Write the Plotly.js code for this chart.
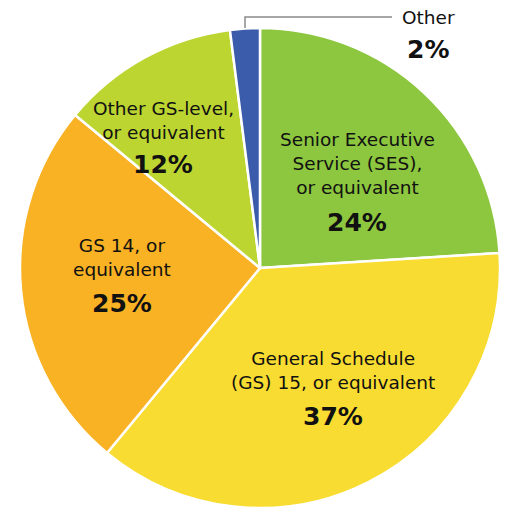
<!DOCTYPE html>
<html>
<head>
<meta charset="utf-8">
<script src="https://cdn.plot.ly/plotly-3.0.1.min.js"></script>
<style>html,body{margin:0;padding:0;background:#fff;}#chart{width:505px;height:510px;}</style>
</head>
<body>
<div id="chart"></div>
<script>
const categories = ["Senior Executive Service (SES), or equivalent", "General Schedule (GS) 15, or equivalent", "GS 14, or equivalent", "Other GS-level, or equivalent", "Other"];
const labelLines = ["Senior Executive<br>Service (SES),<br>or equivalent", "General Schedule<br>(GS) 15, or equivalent", "GS 14, or<br>equivalent", "Other GS-level,<br>or equivalent", "Other"];
const values = [24, 37, 25, 12, 2];
const colors = ["#8dc63f", "#f8dc31", "#f9b224", "#bdd531", "#3a5caa"];

// label anchor positions in pixels (label block centre, percent centre)
const W = 505, H = 510;
const labelPos = [[357, 164], [333, 370], [122, 257], [163, 120], [428, 18]];
const pctPos = [[357, 222], [333, 416], [122, 303], [163, 165], [428, 50]];

const FONT = 'DejaVu Sans, Liberation Sans, Arial, sans-serif';
const annotations = [];
categories.forEach((c, i) => {
  annotations.push({
    x: labelPos[i][0] / W, y: 1 - labelPos[i][1] / H, xref: 'paper', yref: 'paper',
    xanchor: 'center', yanchor: 'middle',
    text: labelLines[i], showarrow: false, align: 'center',
    font: {family: FONT, size: 18.5, color: '#111'}
  });
  annotations.push({
    x: pctPos[i][0] / W, y: 1 - pctPos[i][1] / H, xref: 'paper', yref: 'paper',
    xanchor: 'center', yanchor: 'middle',
    text: '<b>' + values[i] + '%</b>', showarrow: false,
    font: {family: FONT, size: 25, color: '#111'}
  });
});

const data = [{
  type: 'pie',
  labels: categories,
  values: values,
  sort: false,
  direction: 'clockwise',
  rotation: 0,
  textinfo: 'none',
  hoverinfo: 'label+percent',
  marker: {colors: colors, line: {color: '#ffffff', width: 2.5}},
  domain: {x: [20 / W, 500 / W], y: [(H - 508) / H, (H - 28) / H]}
}];

const layout = {
  width: W, height: H,
  margin: {l: 0, r: 0, t: 0, b: 0},
  paper_bgcolor: '#ffffff',
  showlegend: false,
  annotations: annotations,
  shapes: [{
    type: 'path', xref: 'paper', yref: 'paper',
    path: `M ${245 / W} ${1 - 28 / H} L ${245 / W} ${1 - 17 / H} L ${392 / W} ${1 - 17 / H}`,
    line: {color: '#8a8a8a', width: 1.5}
  }]
};

Plotly.newPlot('chart', data, layout, {displayModeBar: false, staticPlot: true});
</script>
</body>
</html>
